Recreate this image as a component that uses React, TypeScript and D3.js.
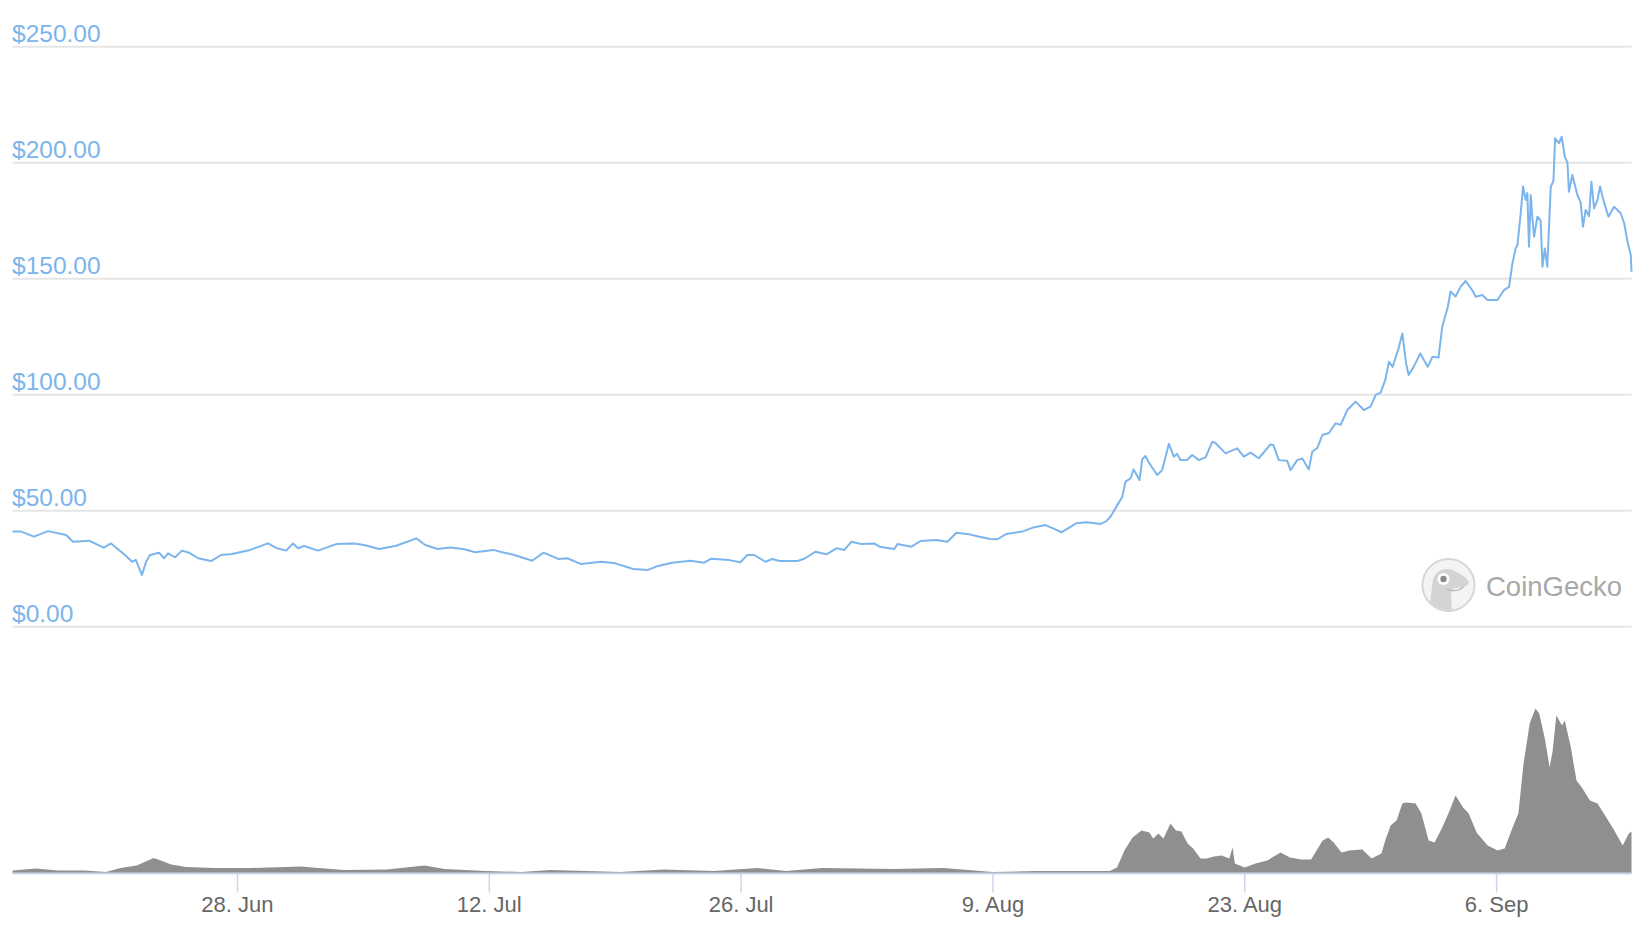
import React from "react";
import * as d3 from "d3";

// ---- data ----
const START = new Date(2020, 5, 15, 12);
const SPAN_DAYS = 90;

const priceOffsets = [
  0.0, 0.47, 1.19, 1.97, 2.97, 3.36, 4.25, 5.06, 5.47, 6.25, 6.64, 6.85, 7.19, 7.42, 7.64, 8.14, 8.42, 8.64, 9.03, 9.42,
  9.81, 10.31, 11.03, 11.59, 12.2, 13.2, 14.2, 14.7, 15.21, 15.59, 15.87, 16.21, 16.98, 17.99, 18.99, 19.54, 20.38, 21.32,
  21.94, 22.44, 22.94, 23.63, 24.33, 25.11, 25.72, 26.72, 27.11, 27.89, 28.89, 29.5, 29.72, 30.33, 30.83, 31.61, 32.73,
  33.5, 34.5, 35.28, 35.89, 36.67, 37.68, 38.45, 38.84, 39.84, 40.46, 40.85, 41.23, 41.85, 42.24, 42.63, 43.63, 44.01,
  44.63, 45.24, 45.8, 46.24, 46.63, 47.19, 47.91, 48.19, 49.02, 49.19, 49.97, 50.47, 51.36, 51.97, 52.47, 53.19, 53.75,
  54.36, 54.75, 55.25, 56.14, 56.75, 57.42, 58.03, 58.31, 59.15, 59.7, 60.48, 60.81, 61.04, 61.31, 61.69, 61.87, 62.15,
  62.32, 62.65, 62.8, 62.98, 63.15, 63.63, 63.91, 64.28, 64.56, 64.74, 64.93, 65.3, 65.58, 65.95, 66.32, 66.69, 66.87,
  67.43, 68.08, 68.45, 68.82, 69.28, 69.93, 70.1, 70.39, 70.86, 71.04, 71.42, 71.7, 72.06, 72.25, 72.53, 72.81, 73.18,
  73.55, 73.83, 74.2, 74.66, 75.12, 75.5, 75.78, 76.05, 76.31, 76.52, 76.72, 77.05, 77.26, 77.47, 77.61, 77.89, 78.26,
  78.42, 78.67, 78.94, 79.27, 79.48, 79.79, 79.94, 80.22, 80.5, 80.78, 81.15, 81.34, 81.71, 81.99, 82.55, 82.91, 83.19,
  83.38, 83.56, 83.66, 83.84, 83.97, 84.12, 84.21, 84.3, 84.4, 84.49, 84.58, 84.77, 84.95, 85.05, 85.18, 85.32, 85.51,
  85.66, 85.75, 85.97, 86.12, 86.29, 86.44, 86.52, 86.71, 86.8, 86.99, 87.17, 87.3, 87.45, 87.64, 87.77, 87.92, 88.11,
  88.25, 88.47, 88.72, 89.03, 89.4, 89.59, 89.78, 89.96, 90.0,
];

const priceValues = [
  41.0, 41.0, 38.8, 41.2, 39.5, 36.6, 37.1, 34.1, 35.9, 30.9, 28.0, 28.8, 22.3, 28.0, 30.9, 31.9, 29.5, 31.6, 29.9, 32.8,
  31.9, 29.5, 28.3, 30.9, 31.3, 33.1, 35.9, 33.8, 32.8, 35.9, 33.8, 34.8, 32.8, 35.6, 35.9, 35.2, 33.5, 34.9,
  36.6, 38.1, 35.2, 33.5, 34.1, 33.4, 32.1, 33.1, 32.3, 30.9, 28.4, 31.9, 31.3, 29.2, 29.5, 27.0, 28.0,
  27.3, 24.9, 24.4, 26.2, 27.6, 28.4, 27.6, 29.3, 28.7, 27.8, 30.9, 30.9, 28.0, 29.2, 28.3, 28.3, 29.3,
  32.3, 31.2, 33.8, 33.1, 36.6, 35.6, 35.9, 34.5, 33.5, 35.6, 34.5, 36.9, 37.4, 36.6, 40.5, 39.8, 38.8,
  37.8, 37.7, 40.0, 41.0, 42.8, 43.8, 41.7, 40.7, 44.6, 45.0, 44.3, 45.5, 47.5, 51.0, 56.0, 62.5, 63.9,
  67.8, 63.2, 72.1, 73.6, 71.0, 65.4, 67.5, 78.8, 73.3, 74.5, 71.8, 72.0, 74.0, 71.8, 73.0, 79.7, 79.2,
  74.7, 76.9, 73.3, 75.0, 72.6, 78.6, 78.2, 71.8, 71.5, 67.5, 71.8, 72.5, 67.8, 75.4, 77.0, 82.6, 83.5,
  87.7, 87.0, 93.4, 97.0, 93.4, 95.0, 99.9, 100.9, 106.3, 114.2, 112.0, 120.0, 126.4, 113.5, 108.5, 112.0, 117.8,
  115.5, 112.0, 116.4, 116.0, 129.3, 137.9, 144.5, 142.3, 146.6, 149.0, 145.0, 142.2, 143.0, 140.8, 140.8, 145.1, 146.5,
  156.6, 163.1, 164.5, 178.2, 189.7, 183.9, 187.0, 163.8, 186.1, 176.0, 168.1, 176.7, 175.0, 155.2, 163.0, 155.2, 189.7,
  192.0, 210.5, 208.4, 211.2, 202.6, 200.0, 187.5, 194.7, 192.0, 186.1, 183.0, 172.4, 179.6, 177.0, 191.8, 180.3, 184.0,
  189.7, 183.0, 176.7, 181.0, 178.2, 174.0, 165.9, 160.2, 153.0,
];

const volumeOffsets = [
  0.0, 1.3, 2.5, 4.0, 5.2, 6.0, 6.9, 7.4, 7.84, 8.24, 8.81, 9.64, 11.2, 13.2, 16.0, 18.4, 20.8, 22.9, 24.0, 26.3, 28.3,
  29.9, 31.9, 33.8, 36.2, 39.0, 41.4, 43.0, 45.0, 49.0, 51.75, 54.5, 56.9, 59.7, 61.0, 61.4, 61.81, 62.26, 62.76, 63.2,
  63.41, 63.7, 63.98, 64.37, 64.68, 64.98, 65.32, 65.63, 66.04, 66.37, 66.79, 67.21, 67.64, 67.82, 67.95, 68.49, 69.1,
  69.75, 70.49, 71.02, 71.66, 72.19, 72.49, 72.83, 73.14, 73.44, 73.88, 74.3, 75.04, 75.55, 76.1, 76.31, 76.61, 76.94,
  77.26, 77.47, 78.0, 78.32, 78.72, 79.05, 79.48, 79.89, 80.22, 80.64, 80.95, 81.39, 82.0, 82.56, 82.95, 83.39, 83.71,
  84.0, 84.34, 84.66, 84.87, 85.17, 85.45, 85.62, 85.82, 86.14, 86.29, 86.63, 86.94, 87.24, 87.69, 88.11, 88.53, 88.98,
  89.51, 89.85, 90.0,
];

const volumeValues = [
  6, 10, 6, 6, 3, 11, 16, 24, 31, 26, 18, 13, 11, 11, 14, 7, 8, 16, 9, 5, 3,
  7, 5, 3, 8, 5, 11, 5, 11, 9, 11, 3, 5, 5, 5, 12, 46, 72, 86, 82,
  70, 80, 70, 100, 86, 84, 60, 50, 30, 30, 34, 36, 30, 52, 20, 12, 20,
  26, 42, 32, 28, 28, 46, 66, 72, 62, 42, 46, 48, 30, 40, 66, 96, 106,
  140, 142, 140, 120, 66, 62, 92, 126, 156, 132, 120, 82, 56, 46, 50, 92, 120,
  220, 300, 330, 320, 272, 212, 246, 316, 296, 306, 252, 186, 172, 146, 140, 116, 90,
  56, 80, 84,
];

const yTicks = [0, 50, 100, 150, 200, 250];
const xTickDates = ["2020-06-28", "2020-07-12", "2020-07-26", "2020-08-09", "2020-08-23", "2020-09-06"];

export default function App() {
  const W = 1646;
  const H = 930;
  const left = 12.6;
  const right = 1631.5;
  const axisY = 873.5;

  const toDate = (d: number) => new Date(START.getTime() + d * 86400000);
  const x = d3.scaleTime().domain([START, toDate(SPAN_DAYS)]).range([left, right]);
  const y = d3.scaleLinear().domain([0, 250]).range([626.7, 46.7]);
  const yv = d3.scaleLinear().domain([0, 400]).range([axisY, axisY - 200]);

  const parse = d3.timeParse("%Y-%m-%d");
  const fmtX = d3.timeFormat("%-d. %b");
  const fmtY = d3.format("$,.2f");

  const linePath =
    d3
      .line<number>()
      .x((_, i) => x(toDate(priceOffsets[i])))
      .y((d) => y(d))(priceValues) || "";

  const volPath =
    d3
      .area<number>()
      .x((_, i) => x(toDate(volumeOffsets[i])))
      .y0(axisY)
      .y1((d) => yv(d))(volumeValues) || "";

  const cx = 1448.5;
  const cy = 585;
  const r = 26;

  return (
    <svg
      width={W}
      height={H}
      style={{ position: "absolute", left: 0, top: 0, background: "#fff" }}
      fontFamily="'Liberation Sans', Arial, Helvetica, sans-serif"
    >
      <rect x={0} y={0} width={W} height={H} fill="#ffffff" />
      {/* grid lines */}
      {yTicks.map((t) => (
        <line key={"g" + t} x1={left} x2={right} y1={y(t)} y2={y(t)} stroke="#e6e6e6" strokeWidth={2} />
      ))}
      {/* y labels */}
      {yTicks.map((t) => (
        <text key={"l" + t} x={12} y={y(t) - 5} fontSize={24.5} fill="#7cb5ec">
          {fmtY(t)}
        </text>
      ))}

      {/* watermark */}
      <g>
        <defs>
          <clipPath id="logoClip">
            <circle cx={cx} cy={cy} r={r - 1} />
          </clipPath>
        </defs>
        <circle cx={cx} cy={cy} r={r} fill="#f4f4f4" stroke="#d6d6d6" strokeWidth={2} />
        <path
          clipPath="url(#logoClip)"
          d={`M${cx - 20},${cy + 30} L${cx - 16},${cy - 2} C${cx - 15},${cy - 14} ${cx - 4},${cy - 19} ${cx + 6},${cy - 14}
             C${cx + 12},${cy - 11} ${cx + 18},${cy - 8} ${cx + 20},${cy - 3} C${cx + 21},${cy + 1} ${cx + 14},${cy + 3} ${cx + 6},${cy + 3}
             C${cx + 2},${cy + 4} ${cx + 2},${cy + 12} ${cx + 4},${cy + 30} Z`}
          fill="#d4d4d4"
        />
        <circle cx={cx - 5} cy={cy - 6} r={6} fill="#ffffff" />
        <circle cx={cx - 5} cy={cy - 6} r={3.2} fill="#8a8a8a" />
        <path d={`M${cx - 2},${cy + 4} Q${cx + 8},${cy + 8} ${cx + 15},${cy + 2}`} fill="none" stroke="#bcbcbc" strokeWidth={1.5} />
        <text x={1486} y={595.5} fontSize={27.5} fill="#a8a8a8">
          CoinGecko
        </text>
      </g>

      {/* price line */}
      <path d={linePath} fill="none" stroke="#7cb5ec" strokeWidth={2} strokeLinejoin="round" />

      {/* volume */}
      <path d={volPath} fill="#8f8f8f" stroke="none" />

      {/* x axis */}
      <line x1={left} x2={right} y1={axisY} y2={axisY} stroke="#ccd6eb" strokeWidth={2} />
      {xTickDates.map((s) => {
        const dt = parse(s) as Date;
        const px = x(dt);
        return (
          <g key={s}>
            <line x1={px} x2={px} y1={axisY} y2={axisY + 19} stroke="#ccd6eb" strokeWidth={1.5} />
            <text x={px} y={912} fontSize={22} fill="#666666" textAnchor="middle">
              {fmtX(dt)}
            </text>
          </g>
        );
      })}
    </svg>
  );
}
